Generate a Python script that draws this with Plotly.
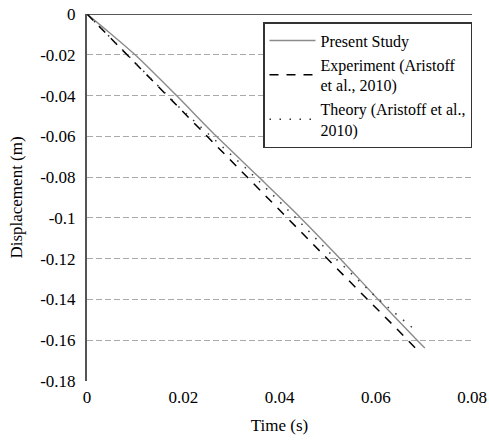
import plotly.graph_objects as go

# Data
present_t = [0, 0.005, 0.0100, 0.0186, 0.0269, 0.0357, 0.0444, 0.0526, 0.0605, 0.0686, 0.0702]
present_y = [0, -0.0098, -0.02, -0.04, -0.06, -0.08, -0.10, -0.12, -0.14, -0.16, -0.1638]

exp_t = [0, 0.0205, 0.0332, 0.0519, 0.0558, 0.0637, 0.0683]
exp_y = [0, -0.0494, -0.080, -0.1248, -0.1341, -0.1528, -0.1640]

theory_t = [0, 0.0192, 0.0333, 0.0429, 0.0505, 0.0602, 0.0685]
theory_y = [0, -0.0458, -0.0763, -0.0988, -0.1173, -0.1392, -0.1556]

y_ticks = [0, -0.02, -0.04, -0.06, -0.08, -0.1, -0.12, -0.14, -0.16, -0.18]
y_ticktext = ["0", "-0.02", "-0.04", "-0.06", "-0.08", "-0.1", "-0.12", "-0.14", "-0.16", "-0.18"]
x_ticks = [0, 0.02, 0.04, 0.06, 0.08]
x_ticktext = ["0", "0.02", "0.04", "0.06", "0.08"]

FONT = "Liberation Serif"

fig = go.Figure()
fig.add_trace(go.Scatter(x=present_t, y=present_y, mode="lines", name="Present Study",
                         line=dict(color="#8a8a8a", width=1.4, shape="spline", smoothing=0.8)))
fig.add_trace(go.Scatter(x=exp_t, y=exp_y, mode="lines", name="Experiment (Aristoff<br>et al., 2010)",
                         line=dict(color="black", width=1.5, dash="9px,8px")))
fig.add_trace(go.Scatter(x=theory_t, y=theory_y, mode="lines", name="Theory (Aristoff et al.,<br>2010)",
                         line=dict(color="#333333", width=1.5, dash="1.5px,8.5px")))

# top axis line at y = 0
fig.add_shape(type="line", xref="x domain", yref="y", x0=0, x1=1, y0=0, y1=0,
              line=dict(color="#222222", width=1.6), layer="above")

fig.update_layout(
    width=489, height=442,
    margin=dict(l=87, r=17, t=14, b=61),
    paper_bgcolor="white", plot_bgcolor="white",
    font=dict(family=FONT, size=17, color="black"),
    showlegend=True,
    legend=dict(x=1, xanchor="right", y=0.978, yanchor="top",
                bordercolor="#333333", borderwidth=1.5, bgcolor="white",
                font=dict(family=FONT, size=16, color="black"),
                itemwidth=46, tracegroupgap=0),
    xaxis=dict(range=[0, 0.08], tickvals=x_ticks, ticktext=x_ticktext,
               showgrid=False, zeroline=False, showline=False,
               ticks="outside", ticklen=1, tickcolor="rgba(0,0,0,0)",
               tickfont=dict(size=17), automargin=False,
               title=dict(text="Time (s)", font=dict(size=17), standoff=12)),
    yaxis=dict(range=[-0.18, 0], tickvals=y_ticks, ticktext=y_ticktext,
               showgrid=True, gridcolor="#aaaaaa", gridwidth=1, griddash="6px,3px",
               zeroline=False, showline=True, linecolor="#555555", linewidth=2,
               ticks="outside", ticklen=6, tickcolor="rgba(0,0,0,0)",
               tickfont=dict(size=17), automargin=False,
               title=dict(text="Displacement (m)", font=dict(size=17), standoff=13)),
)

fig.write_html("out.html", config={"displayModeBar": False},
               post_script="document.body.style.margin='0';")
